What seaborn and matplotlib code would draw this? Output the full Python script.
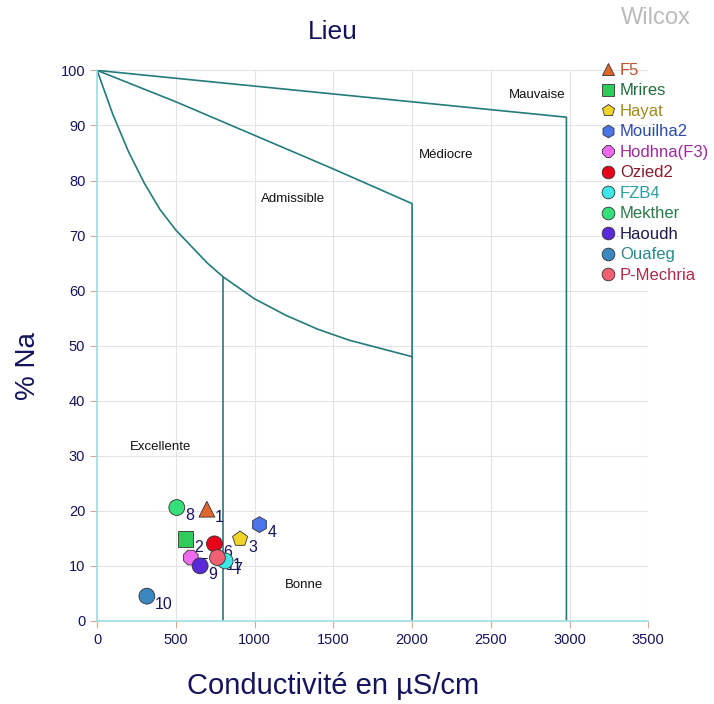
import numpy as np
import pandas as pd
import seaborn as sns
import matplotlib.pyplot as plt

# ______________________________________________________ DATA
sites = ['F5', 'Mrires', 'Hayat', 'Mouilha2', 'Hodhna(F3)', 'Ozied2', 'FZB4',
         'Mekther', 'Haoudh', 'Ouafeg', 'P-Mechria']
numbers = ['1', '2', '3', '4', '5', '6', '7', '8', '9', '10', '11']
conductivite = [697, 561, 908, 1031, 595, 745, 813, 506, 654, 316, 764]
na_pct = [20.3, 14.9, 14.9, 17.5, 11.5, 14.0, 10.9, 20.6, 10.0, 4.5, 11.5]

point_colors = ['#e0662a', '#2ecc5a', '#f2d32a', '#4a74e8', '#f06af0', '#e8001a',
                '#3ee8e8', '#34e07a', '#5a2ad8', '#3a88c0', '#f06070']
text_colors = ['#c0502a', '#1e6e3a', '#a08a20', '#2a4aa8', '#9a2a9a', '#8a1a2a',
               '#2aa0a0', '#2a7a4a', '#1a1a4a', '#2a8a8a', '#b02a4a']
markers = ['^', 's', 'p', 'h', '8', 'o', 'o', 'o', 'o', 'o', 'o']

# Wilcox class boundaries
lim_mauvaise_x = [0, 2980, 2980]
lim_mauvaise_y = [100, 91.5, 0]
lim_mediocre_x = [0, 500, 1000, 1500, 2000, 2000]
lim_mediocre_y = [100, 94.3, 88.2, 82.1, 75.8, 0]
lim_excellente_x = [0, 100, 200, 300, 400, 500, 600, 700, 800, 1000, 1200, 1400, 1600, 1800, 2000]
lim_excellente_y = [100, 92, 85.2, 79.5, 74.7, 71, 68, 65, 62.5, 58.5, 55.5, 53, 51, 49.5, 48]
lim_bonne_x = [800, 800]
lim_bonne_y = [62.5, 0]

zones = ['Mauvaise', 'Médiocre', 'Admissible', 'Excellente', 'Bonne']
zones_x = [2795, 2217, 1245, 400, 1315]
zones_y = [95.6, 84.6, 76.6, 31.6, 6.5]

df = pd.DataFrame({'site': sites, 'num': numbers, 'CE': conductivite, 'Na': na_pct})

# ______________________________________________________ PLOT
sns.set_style('white')
plt.rcParams['font.family'] = ['Liberation Sans', 'DejaVu Sans']
navy = '#14145e'
teal = '#237b7b'

fig = plt.figure(figsize=(7.14, 7.04), dpi=100)
ax = fig.add_axes([0.136, 0.118, 0.772, 0.782])

ax.grid(True, color='#e4e4e4', lw=0.8)
ax.set_axisbelow(True)

for bx, by in [(lim_mauvaise_x, lim_mauvaise_y), (lim_mediocre_x, lim_mediocre_y),
               (lim_excellente_x, lim_excellente_y), (lim_bonne_x, lim_bonne_y)]:
    ax.plot(bx, by, color=teal, lw=1.2, zorder=2)

for z, zx, zy in zip(zones, zones_x, zones_y):
    ax.text(zx, zy, z, fontsize=9.5, color='#111111', ha='center', va='center')

# numbers behind markers
for _, r in df.iterrows():
    ax.annotate(r['num'], (r['CE'], r['Na']), xytext=(6, -6), textcoords='offset points',
                fontsize=11.5, color=navy, ha='left', va='center', zorder=3)

sns.scatterplot(data=df, x='CE', y='Na', hue='site', style='site',
                palette=dict(zip(sites, point_colors)),
                markers=dict(zip(sites, markers)),
                hue_order=sites, style_order=sites,
                s=130, edgecolor='#333333', linewidth=0.6, ax=ax, zorder=4, legend=True)

handles, labels = ax.get_legend_handles_labels()
ax.legend_.remove()
fig.legend(handles, labels, loc='upper left', bbox_to_anchor=(0.83, 0.92),
           frameon=False, fontsize=12, labelcolor=text_colors, markerscale=0.8,
           handletextpad=0.25, labelspacing=0.33, borderaxespad=0, handlelength=1.0)

ax.set_xlim(0, 3500)
ax.set_ylim(0, 100)
ax.set_xticks(np.arange(0, 3501, 500))
ax.set_yticks(np.arange(0, 101, 10))
ax.tick_params(axis='both', colors='#e0a898', labelcolor=navy, labelsize=10.5,
               length=5, width=0.8, direction='out', left=True, bottom=True)
for s in ['top', 'right']:
    ax.spines[s].set_visible(False)
for s in ['left', 'bottom']:
    ax.spines[s].set_color('#a0dede')
    ax.spines[s].set_linewidth(1.2)

ax.set_xlabel('')
ax.set_ylabel('')
fig.text(333 / 714, 1 - 686 / 704, 'Conductivité en µS/cm', fontsize=21, color=navy,
         ha='center', va='center')
fig.text(28 / 714, 1 - 366 / 704, '% Na', fontsize=20, color=navy, rotation=90,
         ha='center', va='center')
fig.text(333 / 714, 1 - 32 / 704, 'Lieu', fontsize=19, color=navy, ha='center', va='center')
fig.text(656 / 714, 1 - 18 / 704, 'Wilcox', fontsize=17, color='#bbbbbb', ha='center', va='center')

fig.savefig('out.png', dpi=100)
